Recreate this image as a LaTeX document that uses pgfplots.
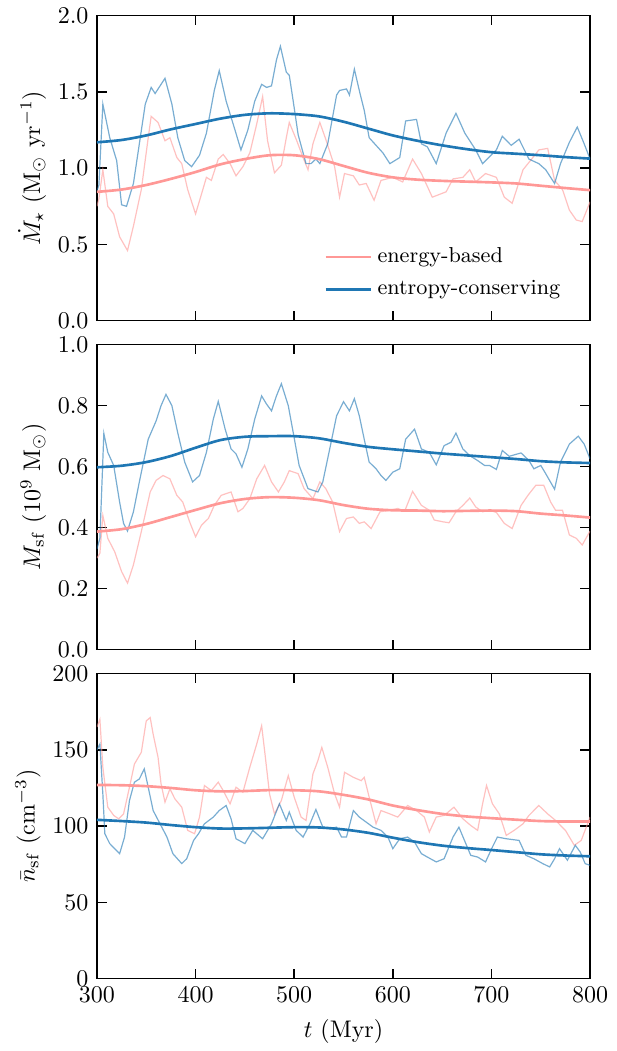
\documentclass[border=0pt]{standalone}
\usepackage{pgfplots}
\pgfplotsset{compat=1.18}
\definecolor{salmon}{RGB}{255,152,150}
\definecolor{tabblue}{RGB}{31,119,180}
\begin{document}
\begin{tikzpicture}
\pgfplotsset{
  every axis/.append style={
    scale only axis, width=205.4pt, height=127pt,
    xmin=300, xmax=800, xtick={300,400,...,800},
    tick align=inside, tick pos=both,
    major tick length=4pt,
    axis line style={line width=0.6pt},
    every tick/.style={black, line width=0.6pt},
    ylabel style={yshift=-2pt},
  },
  noisyred/.style={salmon, opacity=0.6, line width=0.5pt, forget plot},
  noisyblue/.style={tabblue, opacity=0.6, line width=0.5pt, forget plot},
  smoothred/.style={salmon, line width=1.1pt, smooth},
  smoothblue/.style={tabblue, line width=1.1pt, smooth},
}
% ---------- panel 1 ----------
\begin{axis}[name=p1, at={(0,0)}, anchor=north west,
  ymin=0, ymax=2, ytick={0,0.5,...,2.0},
  yticklabel style={/pgf/number format/.cd, fixed, fixed zerofill, precision=1},
  xticklabels={},
  ylabel={$\dot{M}_\star$ ($\mathrm{M}_\odot$ yr$^{-1}$)},
  legend style={draw=none, fill=none, at={(0.965,0.04)}, anchor=south east, row sep=2pt, font=\small},
  legend cell align=left,
  legend image code/.code={\draw[#1] (0cm,0cm) -- (0.67cm,0cm);},
]
\addplot[noisyred] coordinates {
(300,0.75)(302,0.80)(306,0.99)(311,0.75)(317,0.70)(323,0.55)(331,0.46)(337,0.62)(345,0.86)(352,1.20)(355,1.34)(362,1.30)(369,1.18)(374,1.20)(381,1.07)(386,1.03)(392,0.86)(400,0.70)(406,0.83)(411,0.94)(416,0.92)(423,1.06)(428,1.09)(435,1.03)(441,0.95)(448,1.01)(455,1.10)(462,1.29)(468,1.47)(473,1.18)(480,0.97)(487,1.02)(492,1.20)(495,1.30)(502,1.19)(509,1.07)(514,0.99)(519,1.16)(526,1.30)(532,1.19)(541,1.01)(546,0.81)(551,0.965)(560,0.95)(566,0.89)(573,0.90)(581,0.79)(588,0.92)(600,0.94)(610,0.91)(620,1.06)(629,0.965)(640,0.81)(654,0.845)(661,0.93)(671,0.94)(678,0.99)(684,0.91)(694,0.965)(705,0.94)(713,0.81)(721,0.77)(732,0.99)(742,1.07)(748,1.12)(757,1.13)(764,0.92)(772,0.86)(779,0.725)(786,0.66)(792,0.65)(800,0.78)};
\addplot[noisyblue] coordinates {
(300,0.85)(302,0.89)(306,1.42)(313,1.20)(320,1.05)(325,0.76)(330,0.75)(337,0.90)(343,1.16)(349,1.42)(355,1.53)(359,1.49)(369,1.59)(376,1.42)(382,1.20)(389,1.05)(396,1.01)(404,1.085)(411,1.23)(419,1.51)(424,1.64)(431,1.44)(440,1.25)(446,1.12)(453,1.25)(460,1.44)(467,1.55)(472,1.53)(477,1.54)(482,1.71)(486,1.80)(492,1.63)(495,1.61)(499,1.44)(504,1.22)(512,1.03)(517,1.03)(522,1.06)(526,1.03)(534,1.16)(543,1.48)(546,1.51)(553,1.52)(556,1.48)(561,1.65)(566,1.51)(571,1.38)(576,1.20)(583,1.15)(590,1.10)(597,1.03)(607,1.07)(613,1.31)(624,1.32)(629,1.16)(635,1.14)(644,1.03)(654,1.23)(664,1.36)(673,1.23)(684,1.12)(691,1.03)(705,1.12)(711,1.21)(720,1.15)(728,1.19)(738,1.06)(748,1.03)(755,0.99)(764,0.90)(770,1.03)(779,1.17)(787,1.27)(794,1.16)(800,1.06)};
\addplot[smoothred] coordinates {
(300,0.845)(325,0.86)(350,0.89)(375,0.93)(400,0.975)(425,1.025)(450,1.06)(475,1.085)(500,1.085)(525,1.06)(550,1.015)(575,0.97)(600,0.94)(625,0.925)(650,0.917)(675,0.912)(700,0.907)(725,0.90)(750,0.885)(775,0.87)(800,0.856)};
\addlegendentry{energy-based}
\addplot[smoothblue] coordinates {
(300,1.17)(325,1.185)(350,1.215)(375,1.255)(400,1.29)(425,1.325)(450,1.35)(475,1.36)(500,1.355)(525,1.34)(550,1.305)(575,1.26)(600,1.215)(625,1.18)(650,1.15)(675,1.125)(700,1.105)(725,1.095)(750,1.085)(775,1.073)(800,1.063)};
\addlegendentry{entropy-conserving}
\end{axis}
% ---------- panel 2 ----------
\begin{axis}[name=p2, at={(0,-137pt)}, anchor=north west,
  ymin=0, ymax=1, ytick={0,0.2,...,1.0},
  yticklabel style={/pgf/number format/.cd, fixed, fixed zerofill, precision=1},
  xticklabels={},
  ylabel={$M_{\mathrm{sf}}$ ($10^9$ $\mathrm{M}_\odot$)},
]
\addplot[noisyred] coordinates {
(300,0.30)(303,0.316)(306,0.44)(311,0.365)(318,0.321)(325,0.256)(331,0.218)(337,0.278)(345,0.387)(354,0.517)(360,0.555)(367,0.571)(374,0.56)(381,0.506)(387,0.484)(394,0.419)(400,0.37)(406,0.408)(413,0.43)(419,0.473)(426,0.506)(436,0.517)(443,0.452)(448,0.463)(455,0.495)(462,0.56)(470,0.604)(477,0.55)(484,0.517)(490,0.55)(495,0.587)(504,0.577)(510,0.528)(519,0.495)(526,0.55)(532,0.528)(539,0.484)(546,0.387)(553,0.43)(560,0.435)(566,0.414)(571,0.419)(578,0.397)(587,0.452)(597,0.457)(605,0.463)(612,0.454)(620,0.519)(629,0.473)(637,0.457)(642,0.425)(651,0.419)(657,0.416)(664,0.452)(671,0.473)(678,0.497)(684,0.468)(691,0.452)(698,0.457)(705,0.45)(713,0.414)(721,0.397)(730,0.473)(737,0.506)(745,0.539)(753,0.539)(760,0.484)(765,0.457)(772,0.457)(779,0.376)(786,0.365)(792,0.343)(800,0.389)};
\addplot[noisyblue] coordinates {
(300,0.33)(303,0.365)(307,0.709)(311,0.647)(317,0.604)(323,0.484)(327,0.414)(331,0.389)(337,0.452)(343,0.55)(352,0.69)(360,0.75)(365,0.80)(370,0.837)(376,0.80)(382,0.71)(389,0.615)(397,0.55)(404,0.571)(411,0.647)(418,0.756)(423,0.814)(430,0.723)(436,0.658)(441,0.642)(447,0.598)(453,0.658)(460,0.756)(467,0.832)(472,0.805)(477,0.783)(482,0.832)(487,0.872)(494,0.80)(499,0.712)(505,0.604)(514,0.528)(524,0.517)(529,0.55)(536,0.658)(543,0.767)(550,0.813)(556,0.783)(561,0.823)(566,0.767)(571,0.69)(576,0.615)(583,0.593)(588,0.571)(593,0.555)(600,0.582)(607,0.593)(613,0.69)(622,0.723)(629,0.658)(637,0.647)(644,0.606)(652,0.669)(659,0.68)(664,0.71)(671,0.658)(678,0.636)(686,0.62)(693,0.604)(698,0.604)(705,0.591)(711,0.653)(718,0.634)(730,0.645)(738,0.62)(743,0.593)(750,0.604)(755,0.577)(764,0.526)(770,0.615)(779,0.674)(788,0.70)(794,0.674)(800,0.625)};
\addplot[smoothred] coordinates {
(300,0.387)(325,0.395)(350,0.412)(375,0.435)(400,0.458)(425,0.48)(450,0.494)(475,0.50)(500,0.498)(525,0.49)(550,0.474)(575,0.462)(600,0.457)(625,0.456)(650,0.454)(675,0.455)(700,0.456)(725,0.454)(750,0.446)(775,0.44)(800,0.433)};
\addplot[smoothblue] coordinates {
(300,0.598)(325,0.603)(350,0.615)(375,0.635)(400,0.662)(425,0.687)(450,0.698)(475,0.70)(500,0.70)(525,0.693)(550,0.678)(575,0.665)(600,0.657)(625,0.65)(650,0.643)(675,0.637)(700,0.631)(725,0.625)(750,0.618)(775,0.614)(800,0.612)};
\end{axis}
% ---------- panel 3 ----------
\begin{axis}[name=p3, at={(0,-274pt)}, anchor=north west,
  ymin=0, ymax=200, ytick={0,50,...,200},
  xlabel={$t$ (Myr)},
  ylabel={$\bar{n}_{\mathrm{sf}}$ (cm$^{-3}$)},
]
\addplot[noisyred] coordinates {
(300,165)(303,170)(306,138.6)(311,112.4)(317,107)(322,104.8)(327,108)(333,125.5)(338,140.7)(345,148.4)(350,169)(354,171.2)(357,160.3)(362,145)(365,127.7)(369,115.7)(374,124.4)(379,117.9)(386,112.4)(392,97.2)(399,95)(404,105.9)(409,126.6)(416,123.3)(423,128.8)(428,123.3)(435,114.6)(441,125.5)(448,122.2)(455,138.6)(462,153.8)(467,165.8)(470,149.5)(475,121.1)(480,108)(487,116.8)(494,133.1)(500,119)(507,105.9)(512,103.7)(519,134.2)(524,142.9)(528,151.6)(534,138.6)(541,121.1)(546,112.4)(551,135.3)(560,132)(568,129.8)(571,132)(576,119)(583,101.5)(588,110.2)(597,108)(605,105.9)(615,113.5)(624,110.2)(632,105.9)(637,96.1)(644,105.9)(652,107)(662,112.4)(671,104.8)(679,100.4)(686,97.2)(691,114.6)(695,126.6)(701,114.6)(708,108)(715,93.9)(723,97.2)(732,101.5)(738,107)(748,113.5)(757,108)(765,103.7)(775,97.2)(784,87.4)(791,90.6)(800,105.9)};
\addplot[noisyblue] coordinates {
(300,150)(303,153.8)(306,121.1)(308,95)(313,88.5)(318,85.2)(323,81.9)(328,92.8)(333,116.8)(338,128.8)(343,130.9)(348,137.5)(352,125.5)(357,110.2)(364,101.5)(371,92.8)(377,81.9)(386,75.4)(391,78.6)(398,90.6)(403,95)(409,101.5)(418,105.9)(424,110.2)(431,113.5)(436,104.8)(441,91.7)(450,88.5)(458,97.2)(468,91.7)(477,101.5)(485,114.6)(492,103.7)(495,109.2)(502,97.2)(509,92.8)(516,101.5)(522,110.9)(529,99.3)(536,98.3)(543,99.3)(548,92.8)(553,92.8)(560,110.2)(566,105.9)(573,102.6)(580,99.3)(588,97.2)(595,92.8)(600,85.2)(607,91.7)(615,92.8)(622,89.5)(629,81.9)(635,79.7)(644,76.5)(652,78.6)(661,92.8)(667,99.3)(674,88.5)(679,80.8)(686,79.7)(694,76.5)(701,86.3)(706,92.8)(715,91.7)(728,90.6)(735,80.8)(743,78.6)(752,75.4)(759,73.2)(764,78.6)(769,85.2)(777,77.6)(785,87.4)(790,83)(795,75.4)(800,74.3)};
\addplot[smoothred] coordinates {
(300,127)(325,126.8)(350,126.2)(375,125)(400,123.5)(425,122.8)(450,123)(475,123.6)(500,123.5)(525,122.8)(550,120.5)(575,117.5)(600,113.5)(625,110.5)(650,108)(675,106.3)(700,105.2)(725,104.2)(750,103.3)(775,103)(800,103)};
\addplot[smoothblue] coordinates {
(300,104.1)(325,103.3)(350,102.3)(375,100.7)(400,99.3)(425,98.4)(450,98.5)(475,98.9)(500,99.3)(525,99.1)(550,97.8)(575,95.6)(600,92.4)(625,89.5)(650,87.2)(675,85.6)(700,84.3)(725,82.9)(750,81.5)(775,80.7)(800,80.2)};
\end{axis}
\path (current bounding box.west) ++(-3pt,0);
\end{tikzpicture}
\end{document}
